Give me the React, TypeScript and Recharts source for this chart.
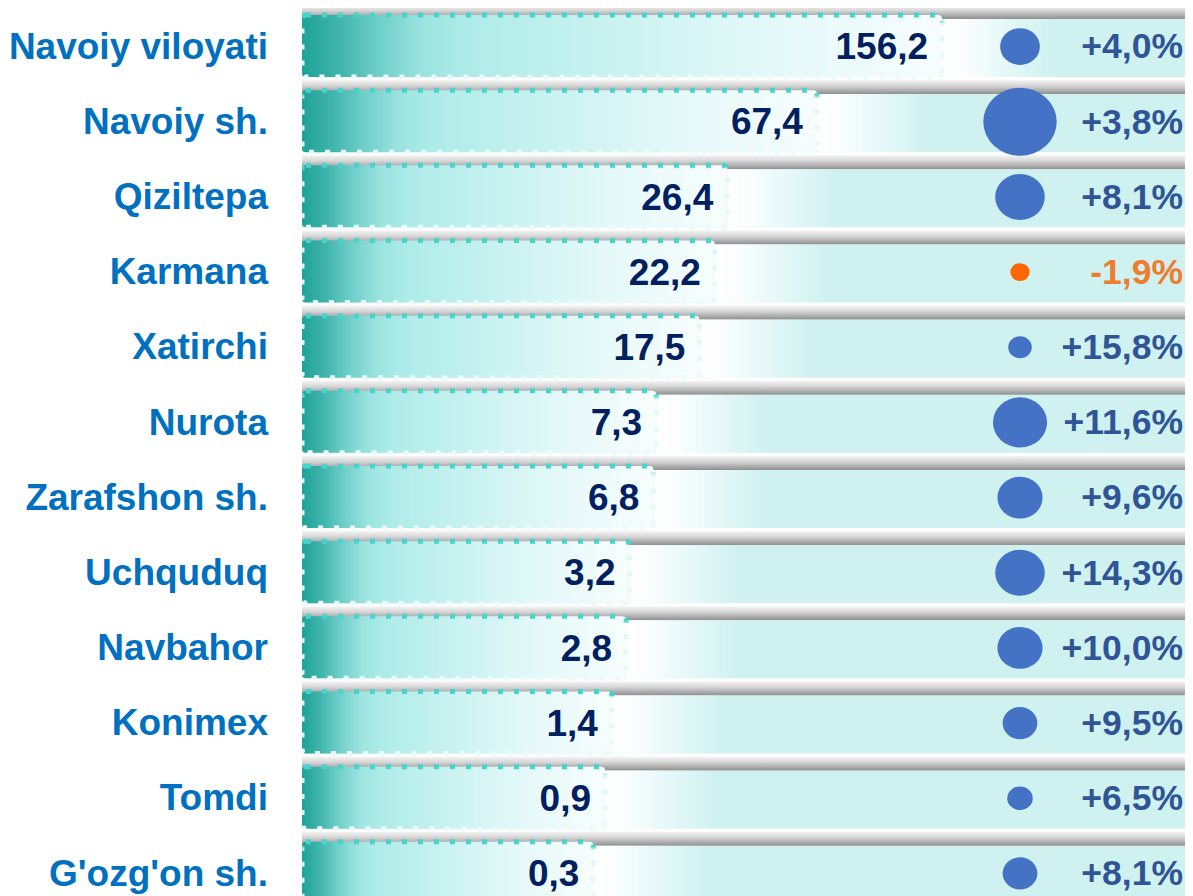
import React from "react";
import {
  ComposedChart,
  Bar,
  Scatter,
  XAxis,
  YAxis,
  ZAxis,
  LabelList,
} from "recharts";

// regions, top to bottom
const regions = [
  "Navoiy viloyati",
  "Navoiy sh.",
  "Qiziltepa",
  "Karmana",
  "Xatirchi",
  "Nurota",
  "Zarafshon sh.",
  "Uchquduq",
  "Navbahor",
  "Konimex",
  "Tomdi",
  "G'ozg'on sh.",
];
const volume = [156.2, 67.4, 26.4, 22.2, 17.5, 7.3, 6.8, 3.2, 2.8, 1.4, 0.9, 0.3];
const growth = [4.0, 3.8, 8.1, -1.9, 15.8, 11.6, 9.6, 14.3, 10.0, 9.5, 6.5, 8.1];
// relative bubble sizes
const bubble = [3.4, 11.6, 5.3, 0.8, 1.2, 6.3, 4.4, 5.3, 4.4, 2.6, 1.4, 2.6];

const data = regions.map((name, i) => ({
  name,
  value: volume[i],
  growth: growth[i],
  bubble: bubble[i],
}));

// bars are drawn on a sqrt axis that starts below zero, so small values still show
const BAR_FLOOR = -89;
const BAR_CEIL = 445;

const FONT = "Arial, 'Liberation Sans', sans-serif";

const fmtNum = (v: number) => v.toFixed(1).replace(".", ",");
const fmtPct = (v: number) => (v > 0 ? "+" : "") + fmtNum(v) + "%";

function RowBand(props: any) {
  const { x, y, width, height } = props;
  return (
    <g>
      <rect x={x} y={y - 10} width={width} height={14} fill="url(#stripFill)" />
      <rect x={x} y={y + 4} width={width} height={height - 4} fill="#cff2f1" />
    </g>
  );
}

function GlassBar(props: any) {
  const { x, y, width, height } = props;
  return (
    <g>
      <rect x={x + width} y={y + 4} width={110} height={height - 4} fill="url(#fadeFill)" />
      <rect
        x={x}
        y={y}
        width={width}
        height={height}
        rx={4}
        fill="url(#barFill)"
        stroke="url(#barStroke)"
        strokeWidth={5}
        strokeDasharray="5 11"
      />
    </g>
  );
}

function ValueLabel(props: any) {
  const vb = props.viewBox ?? props;
  const { x, y, width, height } = vb;
  return (
    <text
      x={x + width - 14}
      y={y + height / 2}
      dy="0.36em"
      textAnchor="end"
      fill="#002060"
      fontSize={37}
      fontWeight="bold"
      fontFamily={FONT}
    >
      {fmtNum(Number(props.value))}
    </text>
  );
}

function Bubble(props: any) {
  const { cx, cy, width, size, payload } = props;
  const r = width ? width / 2 : Math.sqrt((size || 0) / Math.PI);
  return (
    <ellipse
      cx={cx}
      cy={cy + 1}
      rx={r * 1.08}
      ry={r}
      fill={payload.growth < 0 ? "#ff6600" : "#4472c4"}
    />
  );
}

function PctTick(props: any) {
  const { x, y, payload } = props;
  const v = Number(payload.value);
  return (
    <text
      x={x}
      y={y}
      dy="0.36em"
      textAnchor="end"
      fill={v < 0 ? "#ee7d31" : "#2f5597"}
      fontSize={35.5}
      fontWeight="bold"
      fontFamily={FONT}
    >
      {fmtPct(v)}
    </text>
  );
}

export default function App() {
  return (
    <div style={{ width: 1185, height: 888, overflow: "hidden" }}>
      <ComposedChart
        layout="vertical"
        width={1185}
        height={902}
        data={data}
        margin={{ top: 0, right: 0, bottom: 0, left: 0 }}
        barSize={62}
      >
        <defs>
          <linearGradient id="barFill" x1="0" y1="0" x2="1" y2="0">
            <stop offset="0%" stopColor="#1fa298" />
            <stop offset="6%" stopColor="#40b5ad" />
            <stop offset="12%" stopColor="#6fcfc9" />
            <stop offset="19%" stopColor="#9ce4e0" />
            <stop offset="26%" stopColor="#aeece9" />
            <stop offset="50%" stopColor="#cbf3f1" />
            <stop offset="75%" stopColor="#e6f9f9" />
            <stop offset="100%" stopColor="#f7fdfd" />
          </linearGradient>
          <linearGradient id="barStroke" x1="0" y1="0" x2="0" y2="1">
            <stop offset="0%" stopColor="#48d4ce" />
            <stop offset="7%" stopColor="#48d4ce" />
            <stop offset="14%" stopColor="#dff7f7" />
            <stop offset="100%" stopColor="#eafbfb" />
          </linearGradient>
          <linearGradient id="stripFill" x1="0" y1="0" x2="0" y2="1">
            <stop offset="0%" stopColor="#f4f4f4" />
            <stop offset="40%" stopColor="#d6d6d6" />
            <stop offset="80%" stopColor="#a6a6a6" />
            <stop offset="100%" stopColor="#8f8f8f" />
          </linearGradient>
          <linearGradient id="fadeFill" x1="0" y1="0" x2="1" y2="0">
            <stop offset="0%" stopColor="#ffffff" stopOpacity={1} />
            <stop offset="20%" stopColor="#ffffff" stopOpacity={0.9} />
            <stop offset="100%" stopColor="#ffffff" stopOpacity={0} />
          </linearGradient>
        </defs>

        <XAxis
          xAxisId="bar"
          type="number"
          scale="sqrt"
          domain={[BAR_FLOOR, BAR_CEIL]}
          allowDataOverflow
          hide
        />
        <XAxis
          xAxisId="dot"
          type="number"
          domain={[0, 1]}
          dataKey={() => 0.5}
          padding={{ left: 698, right: 153 }}
          hide
        />
        <YAxis
          yAxisId="name"
          type="category"
          dataKey="name"
          width={294}
          axisLine={false}
          tickLine={false}
          tickSize={0}
          tickMargin={34}
          tick={{ fill: "#0070c0", fontSize: 37, fontWeight: "bold", fontFamily: FONT }}
        />
        <YAxis
          yAxisId="pct"
          orientation="right"
          mirror
          type="category"
          dataKey="growth"
          axisLine={false}
          tickLine={false}
          tickSize={0}
          tickMargin={10}
          tick={<PctTick />}
        />
        <ZAxis
          dataKey="bubble"
          type="number"
          domain={[0, 11.6]}
          range={[0, Math.PI * 34 * 34]}
        />

        <Bar
          xAxisId="bar"
          yAxisId="name"
          dataKey={(d: any) => [BAR_FLOOR, d.value]}
          shape={<GlassBar />}
          background={<RowBand />}
          isAnimationActive={false}
        >
          <LabelList dataKey="value" content={<ValueLabel />} />
        </Bar>

        <Scatter
          xAxisId="dot"
          yAxisId="name"
          shape={<Bubble />}
          isAnimationActive={false}
        />
      </ComposedChart>
    </div>
  );
}
